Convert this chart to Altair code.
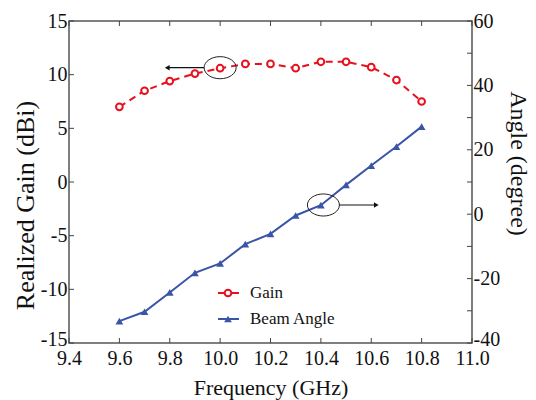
import altair as alt
import pandas as pd

# ---- data ----
freq = [9.6, 9.7, 9.8, 9.9, 10.0, 10.1, 10.2, 10.3, 10.4, 10.5, 10.6, 10.7, 10.8]
gain = [7.0, 8.5, 9.4, 10.1, 10.6, 11.0, 11.0, 10.6, 11.2, 11.2, 10.7, 9.5, 7.5]
angle = [-33.2, -30.3, -24.3, -18.2, -15.3, -9.3, -6.1, -0.4, 2.8, 9.1, 15.1, 21.0, 27.2]

x_ticks = [9.4, 9.6, 9.8, 10.0, 10.2, 10.4, 10.6, 10.8, 11.0]
gain_ticks = [-15, -10, -5, 0, 5, 10, 15]
angle_labels = [-40, -20, 0, 20, 40, 60]
angle_ticks = [-40, -30, -20, -10, 0, 10, 20, 30, 40, 50, 60]
legend_names = ["Gain", "Beam Angle"]

# annotation anchors (data units)
gain_note = {"f": 10.0, "v": 10.65, "f_start": 9.936, "f_end": 9.79}
angle_note = {"f": 10.41, "v": 2.86, "f_start": 10.473, "f_end": 10.62}

RED = "#e8101e"
BLUE = "#3a55a8"
FONT = "Liberation Serif"
W, H = 403, 322

df = pd.DataFrame({"freq": freq, "gain": gain, "angle": angle})
xt = pd.DataFrame({"x": x_ticks})
gt = pd.DataFrame({"g": gain_ticks})
at = pd.DataFrame({"a": angle_ticks})
gn = pd.DataFrame([gain_note])
an = pd.DataFrame([angle_note])

xscale = alt.Scale(domain=[9.4, 11.0], nice=False, zero=False)
gscale = alt.Scale(domain=[-15, 15], nice=False, zero=False)
ascale = alt.Scale(domain=[-40, 60], nice=False, zero=False)

HYPHEN = "datum.value < 0 ? '-' + abs(datum.value) : '' + datum.value"

X = alt.X("freq:Q", scale=xscale,
          axis=alt.Axis(values=x_ticks, format=".1f", ticks=False, domain=False, grid=False,
                        labelFontSize=20, labelPadding=5, labelOverlap=False, labelBound=False,
                        labelFlush=False,
                        title="Frequency (GHz)", titleFontSize=22, titlePadding=9,
                        titleFontWeight="normal"))

Yg = alt.Y("gain:Q", scale=gscale,
           axis=alt.Axis(orient="left", values=gain_ticks, labelExpr=HYPHEN, ticks=False,
                         domain=False, grid=False, labelFontSize=20, labelPadding=2,
                         labelOverlap=False, labelBound=False, labelFlush=False,
                         labelOffset={"condition": {"test": "datum.value === -15", "value": -4},
                                      "value": 0},
                         title="Realized Gain (dBi)", titleFontSize=26, titlePadding=2,
                         titleY=184, titleFontWeight="normal"))

Ya = alt.Y("angle:Q", scale=ascale,
           axis=alt.Axis(orient="right", values=angle_labels, labelExpr=HYPHEN, ticks=False,
                         domain=False, grid=False, labelFontSize=20, labelPadding=1,
                         labelOverlap=False, labelBound=False, labelFlush=False,
                         labelOffset={"condition": {"test": "datum.value === -40", "value": -4},
                                      "value": 0},
                         title="Angle (degree)", titleFontSize=24, titlePadding=6,
                         titleY=142, titleFontWeight="normal"))

base = alt.Chart(df)

ELLIPSE = "M-1,0 A1,0.69 0 1,1 1,0 A1,0.69 0 1,1 -1,0 Z"

# ---- gain layer (left axis) ----
gain_line = base.mark_line(color=RED, strokeWidth=2, strokeDash=[7, 5]).encode(x=X, y=Yg)
gain_pts = base.mark_point(shape="circle", filled=True, fill="white", stroke=RED,
                           strokeWidth=2, size=45, opacity=1).encode(x=X, y=Yg)
gain_ell = alt.Chart(gn).mark_point(shape=ELLIPSE, filled=False, stroke="#222", strokeWidth=1,
                                    size=1024, opacity=1).encode(
    x=alt.X("f:Q", scale=xscale), y=alt.Y("v:Q", scale=gscale))
gain_arrow = alt.Chart(gn).mark_rule(color="#111", strokeWidth=1.2).encode(
    x=alt.X("f_start:Q", scale=xscale), x2="f_end:Q", y=alt.Y("v:Q", scale=gscale))
gain_head = alt.Chart(gn).mark_point(shape="triangle-left", filled=True, color="#111",
                                     size=30, opacity=1).encode(
    x=alt.X("f_end:Q", scale=xscale), y=alt.Y("v:Q", scale=gscale))
gain_ticks_l = alt.Chart(gt).mark_rule(color="#444", strokeWidth=1).encode(
    y=alt.Y("g:Q", scale=gscale), x=alt.value(0), x2=alt.value(5))

gain_layer = alt.layer(gain_ticks_l, gain_line, gain_pts, gain_ell, gain_arrow, gain_head)

# ---- angle layer (right axis) ----
ang_line = base.mark_line(color=BLUE, strokeWidth=2).encode(x=X, y=Ya)
ang_pts = base.mark_point(shape="triangle-up", filled=True, color=BLUE, size=60,
                          opacity=1).encode(x=X, y=Ya)
ang_ell = alt.Chart(an).mark_point(shape=ELLIPSE, filled=False, stroke="#222", strokeWidth=1,
                                   size=1024, opacity=1).encode(
    x=alt.X("f:Q", scale=xscale), y=alt.Y("v:Q", scale=ascale))
ang_arrow = alt.Chart(an).mark_rule(color="#111", strokeWidth=1.2).encode(
    x=alt.X("f_start:Q", scale=xscale), x2="f_end:Q", y=alt.Y("v:Q", scale=ascale))
ang_head = alt.Chart(an).mark_point(shape="triangle-right", filled=True, color="#111",
                                    size=30, opacity=1).encode(
    x=alt.X("f_end:Q", scale=xscale), y=alt.Y("v:Q", scale=ascale))
ang_ticks_r = alt.Chart(at).mark_rule(color="#444", strokeWidth=1).encode(
    y=alt.Y("a:Q", scale=ascale), x=alt.value(W - 5), x2=alt.value(W))

ang_layer = alt.layer(ang_ticks_r, ang_line, ang_pts, ang_ell, ang_arrow, ang_head)

# ---- x inward ticks (bottom and top) ----
xt_bottom = alt.Chart(xt).mark_rule(color="#444", strokeWidth=1).encode(
    x=alt.X("x:Q", scale=xscale), y=alt.value(H - 5), y2=alt.value(H))
xt_top = alt.Chart(xt).mark_rule(color="#444", strokeWidth=1).encode(
    x=alt.X("x:Q", scale=xscale), y=alt.value(0), y2=alt.value(5))

# ---- legend (inside plot) ----
lg0 = pd.DataFrame({"name": [legend_names[0]]})
lg1 = pd.DataFrame({"name": [legend_names[1]]})
LX0, LX1, LXP, LXT = 149, 170, 159, 181
LY0, LY1 = 272, 298
leg = [
    alt.Chart(lg0).mark_rule(color=RED, strokeWidth=2).encode(
        x=alt.value(LX0), x2=alt.value(LX1), y=alt.value(LY0)),
    alt.Chart(lg0).mark_point(shape="circle", filled=True, fill="white", stroke=RED,
                              strokeWidth=2, size=45, opacity=1).encode(
        x=alt.value(LXP), y=alt.value(LY0)),
    alt.Chart(lg0).mark_text(align="left", baseline="middle", font=FONT, fontSize=17,
                             color="#111").encode(
        x=alt.value(LXT), y=alt.value(LY0), text="name:N"),
    alt.Chart(lg1).mark_rule(color=BLUE, strokeWidth=2).encode(
        x=alt.value(LX0), x2=alt.value(LX1), y=alt.value(LY1)),
    alt.Chart(lg1).mark_point(shape="triangle-up", filled=True, color=BLUE, size=60,
                              opacity=1).encode(x=alt.value(LXP), y=alt.value(LY1)),
    alt.Chart(lg1).mark_text(align="left", baseline="middle", font=FONT, fontSize=17,
                             color="#111").encode(
        x=alt.value(LXT), y=alt.value(LY1), text="name:N"),
]

chart = alt.layer(gain_layer, ang_layer, xt_bottom, xt_top, *leg).resolve_scale(
    y="independent"
).properties(
    width=W, height=H,
    autosize=alt.AutoSizeParams(type="none"),
    padding={"left": 69, "top": 21, "right": 64, "bottom": 57},
    background="white",
).configure_view(
    stroke="#555", strokeWidth=1.5
).configure_axis(
    labelFont=FONT, titleFont=FONT, labelColor="#111", titleColor="#111"
)

chart.save("out.html", embed_options={"renderer": "svg", "actions": False})
